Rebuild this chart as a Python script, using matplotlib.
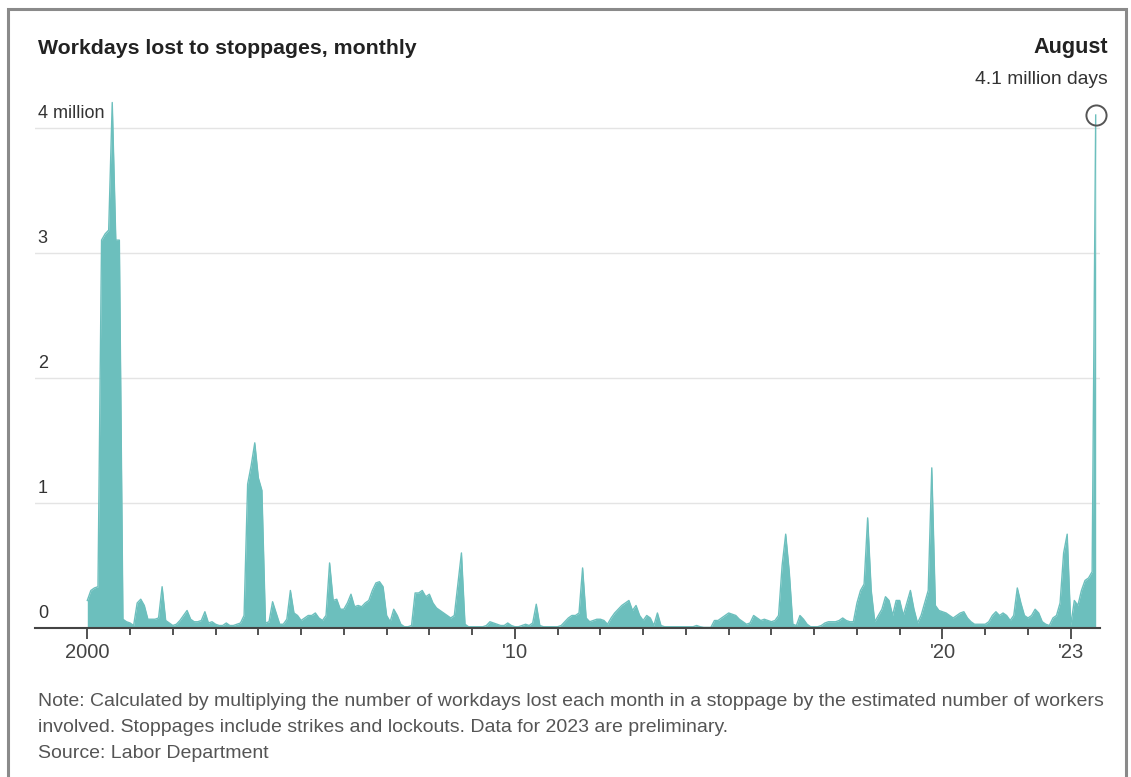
import numpy as np
import matplotlib.pyplot as plt
from matplotlib.patches import Rectangle

# workdays lost to stoppages, millions, one value per month (Jan..Dec)
y2000 = [0.22, 0.30, 0.32, 0.33, 3.10, 3.15, 3.18, 4.20, 3.10, 3.10, 0.07, 0.05]
y2001 = [0.04, 0.02, 0.20, 0.23, 0.18, 0.07, 0.07, 0.07, 0.08, 0.33, 0.06, 0.04]
y2002 = [0.02, 0.03, 0.06, 0.10, 0.14, 0.07, 0.05, 0.05, 0.06, 0.13, 0.04, 0.05]
y2003 = [0.03, 0.02, 0.02, 0.04, 0.02, 0.02, 0.03, 0.04, 0.10, 1.15, 1.30, 1.48]
y2004 = [1.20, 1.10, 0.04, 0.05, 0.21, 0.12, 0.03, 0.03, 0.07, 0.30, 0.12, 0.10]
y2005 = [0.06, 0.08, 0.10, 0.10, 0.12, 0.08, 0.06, 0.10, 0.52, 0.22, 0.23, 0.15]
y2006 = [0.15, 0.20, 0.27, 0.17, 0.18, 0.17, 0.20, 0.22, 0.30, 0.36, 0.37, 0.33]
y2007 = [0.10, 0.05, 0.15, 0.10, 0.03, 0.01, 0.01, 0.02, 0.28, 0.28, 0.30, 0.25]
y2008 = [0.27, 0.20, 0.16, 0.14, 0.12, 0.10, 0.08, 0.10, 0.35, 0.60, 0.03, 0.01]
y2009 = [0.01, 0.01, 0.01, 0.01, 0.02, 0.05, 0.04, 0.03, 0.02, 0.02, 0.04, 0.02]
y2010 = [0.01, 0.01, 0.02, 0.03, 0.02, 0.04, 0.19, 0.02, 0.01, 0.01, 0.01, 0.01]
y2011 = [0.01, 0.02, 0.05, 0.08, 0.10, 0.10, 0.12, 0.48, 0.08, 0.05, 0.06, 0.07]
y2012 = [0.07, 0.06, 0.03, 0.08, 0.12, 0.15, 0.18, 0.20, 0.22, 0.14, 0.18, 0.10]
y2013 = [0.06, 0.10, 0.08, 0.02, 0.12, 0.02, 0.01, 0.01, 0.01, 0.01, 0.01, 0.01]
y2014 = [0.01, 0.01, 0.01, 0.02, 0.01, 0.005, 0.005, 0.005, 0.06, 0.06, 0.08, 0.10]
y2015 = [0.12, 0.11, 0.10, 0.07, 0.05, 0.03, 0.04, 0.10, 0.08, 0.06, 0.07, 0.06]
y2016 = [0.05, 0.06, 0.10, 0.50, 0.75, 0.45, 0.03, 0.02, 0.10, 0.07, 0.03, 0.01]
y2017 = [0.01, 0.01, 0.02, 0.04, 0.05, 0.05, 0.05, 0.06, 0.08, 0.06, 0.05, 0.05]
y2018 = [0.20, 0.30, 0.35, 0.88, 0.30, 0.05, 0.10, 0.15, 0.25, 0.22, 0.10, 0.22]
y2019 = [0.22, 0.10, 0.20, 0.30, 0.15, 0.04, 0.10, 0.20, 0.30, 1.28, 0.18, 0.14]
y2020 = [0.13, 0.12, 0.10, 0.08, 0.10, 0.12, 0.13, 0.08, 0.05, 0.03, 0.03, 0.03]
y2021 = [0.03, 0.05, 0.10, 0.13, 0.10, 0.12, 0.10, 0.06, 0.10, 0.32, 0.20, 0.10]
y2022 = [0.08, 0.10, 0.15, 0.12, 0.05, 0.03, 0.02, 0.08, 0.10, 0.20, 0.60, 0.75]
y2023 = [0.02, 0.22, 0.18, 0.30, 0.38, 0.40, 0.45, 4.10]

yticks = [0, 1, 2, 3, 4]
ytick_labels = ['0', '1', '2', '3', '4 million']
xticks = [2000, 2010, 2020, 2023]
xtick_labels = ['2000', "'10", "'20", "'23"]

title = 'Workdays lost to stoppages, monthly'
note_lines = ['Note: Calculated by multiplying the number of workdays lost each month in a stoppage by the estimated number of workers',
              'involved. Stoppages include strikes and lockouts. Data for 2023 are preliminary.',
              'Source: Labor Department']

values = np.array(y2000 + y2001 + y2002 + y2003 + y2004 + y2005 + y2006 + y2007
                  + y2008 + y2009 + y2010 + y2011 + y2012 + y2013 + y2014 + y2015
                  + y2016 + y2017 + y2018 + y2019 + y2020 + y2021 + y2022 + y2023)
t = 2000 + np.arange(len(values)) / 12

plt.rcParams['font.family'] = ['Liberation Sans', 'DejaVu Sans']

teal = '#6cbfbd'
W, H = 1131, 777
fig = plt.figure(figsize=(W / 100, H / 100), dpi=100)
renderer = fig.canvas.get_renderer()


def fit(txt, width_px):
    # scale font so the text spans the same width as in the source image
    w = txt.get_window_extent(renderer).width
    txt.set_fontsize(txt.get_fontsize() * width_px / w)
    return txt


ax = fig.add_axes([35 / W, 1 - 628 / H, (1100 - 35) / W, (628 - 95) / H])

ax.fill_between(t, 0, values, color=teal, lw=0)
ax.plot(t, values, color=teal, lw=1)
ax.plot(t[-1], values[-1], 'o', ms=14.5, mfc='none', mec='#555555', mew=1.4, clip_on=False)

ax.set_xlim(1998.777, 2023.684)
ax.set_ylim(0, 4.26)

for s in ['top', 'right', 'left']:
    ax.spines[s].set_visible(False)
ax.spines['bottom'].set_color('#444444')
ax.spines['bottom'].set_linewidth(1.5)

ax.set_yticks(yticks)
ax.set_yticklabels([])
ax.tick_params(axis='y', length=0)
ax.grid(axis='y', color='#e4e4e4', lw=1)
ax.set_axisbelow(True)
for v, lab in zip(yticks, ytick_labels):
    ax.annotate(lab, xy=(0, v), xycoords=('axes fraction', 'data'),
                xytext=(2, 4), textcoords='offset points', ha='left', va='bottom',
                fontsize=13, color='#333333')

ax.set_xticks(xticks)
ax.set_xticklabels(xtick_labels, fontsize=14.5, color='#444444')
ax.set_xticks(np.arange(2000, 2024), minor=True)
ax.tick_params(axis='x', which='major', length=8, width=1.3, color='#444444', pad=3)
ax.tick_params(axis='x', which='minor', length=5, width=1.3, color='#444444')

fit(fig.text(38 / W, 1 - 48 / H, title, fontsize=17, fontweight='bold', color='#222222',
             ha='left', va='center'), 379)
fit(fig.text(1108 / W, 1 - 48 / H, 'August', fontsize=17, fontweight='bold', color='#222222',
             ha='right', va='center'), 75)
fit(fig.text(1108 / W, 1 - 80 / H, '4.1 million days', fontsize=17, color='#333333',
             ha='right', va='center'), 133)

first = fit(fig.text(38 / W, 1 - 702 / H, note_lines[0], fontsize=15, color='#555555',
                     ha='left', va='center'), 1064)
for i, line in enumerate(note_lines[1:], start=1):
    fig.text(38 / W, 1 - (702 + 25.5 * i) / H, line, fontsize=first.get_fontsize(),
             color='#555555', ha='left', va='center')

fig.add_artist(Rectangle((8 / W, -0.01), (1126 - 8) / W, 1.01 - 9 / H, transform=fig.transFigure,
                         fill=False, edgecolor='#8a8a8a', lw=2.2))

fig.savefig('out.png', dpi=100)
